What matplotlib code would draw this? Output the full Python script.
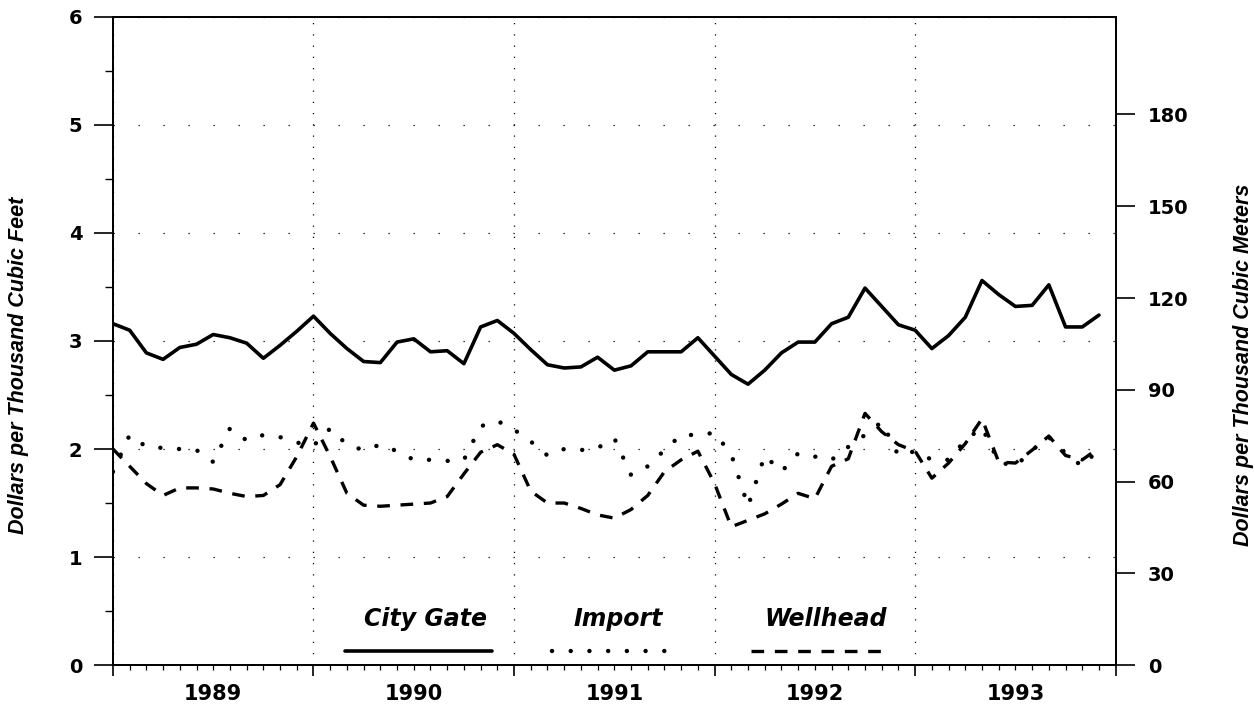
import matplotlib
matplotlib.use("Agg")
import matplotlib.pyplot as plt
import matplotlib.transforms as mtransforms
import numpy as np

# monthly prices, Jan 1989 .. Dec 1993, dollars per thousand cubic feet
city_gate = [3.16, 3.10, 2.89, 2.83, 2.94, 2.97, 3.06, 3.03, 2.98, 2.84, 2.96, 3.09,
             3.23, 3.07, 2.93, 2.81, 2.80, 2.99, 3.02, 2.90, 2.91, 2.79, 3.13, 3.19,
             3.07, 2.92, 2.78, 2.75, 2.76, 2.85, 2.73, 2.77, 2.90, 2.90, 2.90, 3.03,
             2.86, 2.69, 2.60, 2.73, 2.89, 2.99, 2.99, 3.16, 3.22, 3.49, 3.32, 3.15,
             3.10, 2.93, 3.05, 3.22, 3.56, 3.43, 3.32, 3.33, 3.52, 3.13, 3.13, 3.24]

imports = [1.79, 2.13, 2.02, 2.01, 2.00, 1.99, 1.88, 2.19, 2.08, 2.13, 2.11, 2.06,
           2.03, 2.19, 2.04, 1.99, 2.04, 1.98, 1.90, 1.90, 1.89, 1.90, 2.21, 2.26,
           2.18, 2.07, 1.94, 2.00, 1.99, 2.01, 2.10, 1.76, 1.84, 1.99, 2.13, 2.13,
           2.15, 1.95, 1.47, 1.94, 1.79, 1.96, 1.93, 1.90, 2.02, 2.13, 2.25, 1.94,
           1.98, 1.90, 1.90, 2.08, 2.20, 1.88, 1.84, 1.99, 2.11, 1.96, 1.84, 2.00]

wellhead = [2.00, 1.84, 1.68, 1.57, 1.64, 1.64, 1.63, 1.59, 1.56, 1.57, 1.67, 1.93,
            2.24, 1.93, 1.59, 1.48, 1.47, 1.48, 1.49, 1.50, 1.56, 1.77, 1.97, 2.04,
            1.95, 1.61, 1.50, 1.50, 1.45, 1.39, 1.36, 1.44, 1.57, 1.79, 1.90, 1.98,
            1.68, 1.28, 1.34, 1.40, 1.49, 1.59, 1.54, 1.84, 1.91, 2.33, 2.16, 2.04,
            1.98, 1.73, 1.87, 2.05, 2.28, 1.88, 1.87, 1.99, 2.12, 1.94, 1.90, 2.01]

years = ["1989", "1990", "1991", "1992", "1993"]
series_names = ["City Gate", "Import", "Wellhead"]

M3_PER_MCF = 35.3147  # $/Mcf -> $/thousand m3

solid = dict(color="black", lw=2.6, ls="-", solid_capstyle="round")
dotted = dict(color="black", lw=3.2, ls=(0, (0.01, 4.2)), dash_capstyle="round")
dashed = dict(color="black", lw=2.4, ls=(0, (3.8, 3.2)), dash_capstyle="butt")
styles = [solid, dotted, dashed]

tick_font = dict(family="DejaVu Sans", weight="bold", size=14)
label_font = dict(family="Liberation Sans", weight="bold", style="italic", size=15.5)

fig = plt.figure(figsize=(12.55, 7.06), dpi=100)
ax = fig.add_axes([0.090, 0.058, 0.799, 0.918])

months = np.arange(len(city_gate))
for vals, st in zip([city_gate, imports, wellhead], styles):
    ax.plot(months, vals, zorder=3, **st)

ax.set_xlim(0, 60)
ax.set_ylim(0, 6)

# y axis: integers labelled, half steps as short ticks
ax.set_yticks(range(0, 7))
ax.set_yticks(np.arange(0.5, 6, 1.0), minor=True)
ax.tick_params(axis="y", which="major", direction="out", length=14, width=1.2, pad=8)
ax.tick_params(axis="y", which="minor", direction="out", length=6, width=1.0)
for lab in ax.get_yticklabels():
    lab.set(**tick_font)

# x axis: year boundaries + monthly ticks
ax.set_xticks(range(0, 61, 12))
ax.set_xticks(range(0, 61), minor=True)
ax.set_xticklabels([])
ax.tick_params(axis="x", which="major", direction="out", length=8, width=1.2)
ax.tick_params(axis="x", which="minor", direction="out", length=3.5, width=0.9)

trans = mtransforms.blended_transform_factory(ax.transData, ax.transAxes)
for k, yr in enumerate(years):
    ax.text(6 + 12 * k, -0.045, yr, transform=trans, ha="center", va="center",
            **dict(tick_font, size=15))

# sparse dotted grid, vertical lines a bit denser than horizontal ones
ax.xaxis.grid(True, which="major", color="black", lw=0.9, ls=(0, (1, 8)), zorder=1)
ax.yaxis.grid(True, which="major", color="black", lw=0.9, ls=(0, (1, 19)), zorder=1)

for sp in ax.spines.values():
    sp.set_linewidth(1.3)

# right axis in $/thousand cubic meters
ax2 = ax.twinx()
ax2.set_ylim(0, 6 * M3_PER_MCF)
ax2.set_yticks(range(0, 181, 30))
ax2.tick_params(axis="y", direction="out", length=14, width=1.2, pad=9)
for lab in ax2.get_yticklabels():
    lab.set(**tick_font)
for sp in ax2.spines.values():
    sp.set_linewidth(1.3)

fig.text(0.015, 0.483, "Dollars per Thousand Cubic Feet", rotation=90,
         ha="center", va="center", **label_font)
fig.text(0.991, 0.483, "Dollars per Thousand Cubic Meters", rotation=90,
         ha="center", va="center", **label_font)

# legend: label above a sample of each line
leg_x = [(13.9, 22.7), (26.3, 33.4), (38.2, 46.3)]
for name, (x0, x1), st in zip(series_names, leg_x, styles):
    ax.text((x0 + x1) / 2 + 0.4, 0.43, name, ha="center", va="center",
            family="DejaVu Sans", weight="bold", style="italic", size=17)
    ax.plot([x0, x1], [0.13, 0.13], zorder=3, **st)

fig.savefig("out.png", dpi=100)
